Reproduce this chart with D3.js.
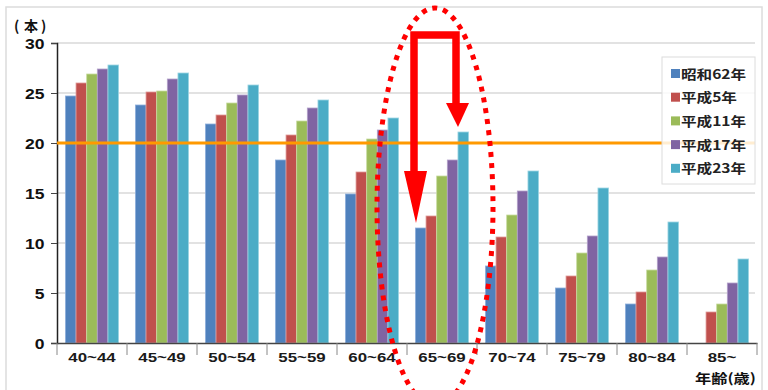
<!DOCTYPE html>
<html><head><meta charset="utf-8">
<script src="https://cdn.jsdelivr.net/npm/d3@7"></script>
<style>body{margin:0;background:#fff}svg{display:block}</style>
</head><body>
<svg id="c" width="768" height="390"></svg>
<script>
const categories = ["40~44","45~49","50~54","55~59","60~64","65~69","70~74","75~79","80~84","85~"];
const seriesNames = ["昭和62年","平成5年","平成11年","平成17年","平成23年"];
const s62 = [24.7, 23.8, 21.9, 18.3, 14.9, 11.5, 7.7, 5.5, 3.9, null];
const h5  = [26.0, 25.1, 22.8, 20.8, 17.1, 12.7, 10.6, 6.7, 5.1, 3.1];
const h11 = [26.9, 25.2, 24.0, 22.2, 20.4, 16.7, 12.8, 9.0, 7.3, 3.9];
const h17 = [27.4, 26.4, 24.8, 23.5, 21.3, 18.3, 15.2, 10.7, 8.6, 6.0];
const h23 = [27.8, 27.0, 25.8, 24.3, 22.5, 21.1, 17.2, 15.5, 12.1, 8.4];
const yTicks = [0,5,10,15,20,25,30];
const targetLine = 20;
const colors = ["#4F81BD","#C0504D","#9BBB59","#8064A2","#4BACC6"];
const strokes = ["#8fb0dc","#e09a98","#c8dca0","#b3a1cb","#9ed6e4"];

const series = [s62,h5,h11,h17,h23];
const svg = d3.select("#c");
const m = {l:57, r:757, t:43, b:343};
const SX = 1.25;

svg.append("rect").attr("x",6).attr("y",7).attr("width",756).attr("height",392)
  .attr("fill","#fff").attr("stroke","#dcdcdc").attr("stroke-width",1.5);

const x0 = d3.scaleBand().domain(categories).range([m.l,m.r]).paddingInner(0.24).paddingOuter(0.12);
const x1 = d3.scaleBand().domain(d3.range(series.length)).range([0,x0.bandwidth()]);
const y = d3.scaleLinear().domain([0,30]).range([m.b,m.t]);

// gridlines
svg.append("g").selectAll("line").data(yTicks.filter(d=>d>0)).join("line")
  .attr("x1",m.l).attr("x2",755).attr("y1",d=>y(d)).attr("y2",d=>y(d))
  .attr("stroke","#d9d9d9").attr("stroke-width",1.5);

// bars
const rows = categories.map((c,i)=>({c, vals: series.map(s=>s[i])}));
const g = svg.append("g");
rows.forEach(r=>{
  r.vals.forEach((v,j)=>{
    if(v==null) return;
    g.append("rect").attr("x",x0(r.c)+x1(j)).attr("y",y(v))
     .attr("width",x1.bandwidth()).attr("height",y(0)-y(v))
     .attr("fill",colors[j]).attr("stroke",strokes[j]).attr("stroke-width",0.8);
  });
});

// y axis
const ya = svg.append("g").attr("transform",`translate(${m.l},0)`)
  .call(d3.axisLeft(y).tickValues(yTicks).tickSize(6).tickPadding(0));
ya.select(".domain").attr("stroke","#222").attr("stroke-width",1.5);
ya.selectAll(".tick line").attr("stroke","#444");
ya.selectAll("text").attr("x",-10).attr("dy","0.36em")
  .attr("transform",`scale(${SX},1)`)
  .attr("font-family","'Liberation Sans',Arial,sans-serif")
  .attr("font-size",14).attr("font-weight","bold").attr("fill","#111");

// x axis
const xa = svg.append("g").attr("transform",`translate(0,${m.b})`)
  .call(d3.axisBottom(x0).tickSize(0).tickPadding(9));
xa.select(".domain").attr("stroke","#444").attr("stroke-width",1.5);
xa.selectAll("text").attr("transform",`scale(${SX},1)`)
  .attr("font-family","'Liberation Sans',Arial,sans-serif")
  .attr("font-size",13.5).attr("font-weight","bold").attr("fill","#1a1a1a");
const bounds = [m.l].concat(categories.map(c=>x0(c)-x0.step()*x0.paddingInner()/2+x0.step()));
svg.append("g").selectAll("line").data(bounds).join("line")
  .attr("x1",d=>d).attr("x2",d=>d).attr("y1",m.b).attr("y2",m.b+12)
  .attr("stroke","#888").attr("stroke-width",1);

const cjk = "'Noto Sans CJK JP','Noto Sans CJK SC',sans-serif";
[["(",14],["本",24],[")",41]].forEach(([t,xx])=>{
  svg.append("text").attr("x",xx).attr("y",31).text(t)
    .attr("font-family",cjk).attr("font-size",14).attr("font-weight","bold").attr("fill","#111");
});
svg.append("text").attr("transform",`translate(756,383) scale(${SX},1)`).attr("text-anchor","end").text("年齢(歳)")
  .attr("font-family",cjk).attr("font-size",13).attr("font-weight","bold").attr("fill","#111");

// target line
svg.append("line").attr("x1",m.l).attr("x2",755).attr("y1",y(targetLine)).attr("y2",y(targetLine))
  .attr("stroke","#FF9900").attr("stroke-width",3);

// legend
const lg = svg.append("g");
lg.append("rect").attr("x",662).attr("y",57).attr("width",93).attr("height",127)
  .attr("fill","rgba(255,255,255,0.82)").attr("stroke","#dcdcdc").attr("stroke-width",1);
seriesNames.forEach((n,i)=>{
  const yy = 74 + i*23.7;
  lg.append("rect").attr("x",671).attr("y",yy-5).attr("width",9).attr("height",9).attr("fill",colors[i]);
  lg.append("text").attr("transform",`translate(681,${yy+4.5}) scale(1.2,1)`).text(n)
    .attr("font-family",cjk).attr("font-size",13).attr("font-weight","bold").attr("fill","#222");
});

// annotations
svg.append("ellipse").attr("cx",435).attr("cy",207).attr("rx",58).attr("ry",199)
  .attr("fill","none").attr("stroke","#FF0000").attr("stroke-width",5).attr("stroke-dasharray","5 6");
const red = "#FF0000";
svg.append("path").attr("d","M414,197 L414,35 L456,35 L456,104")
  .attr("fill","none").attr("stroke",red).attr("stroke-width",7.5).attr("stroke-linejoin","miter");
svg.append("path").attr("d","M404,171 L427,171 L416,223 Z").attr("fill",red);
svg.append("path").attr("d","M446,103 L469,103 L458,127 Z").attr("fill",red);
</script>
</body></html>
